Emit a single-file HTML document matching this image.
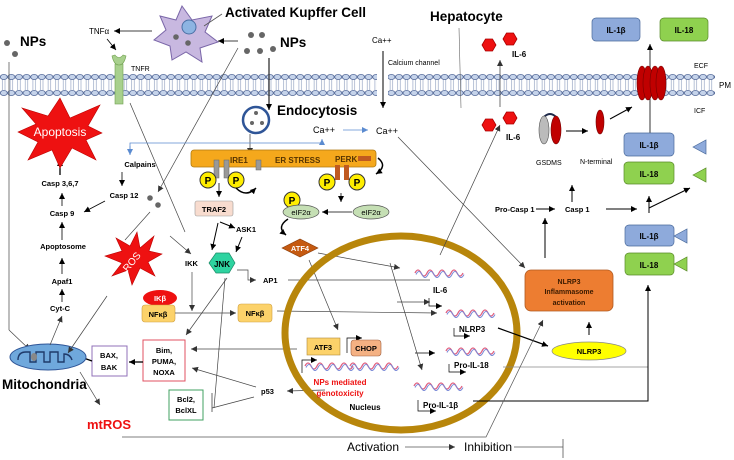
<!DOCTYPE html>
<html><head><meta charset="utf-8"><style>
html,body{margin:0;padding:0;background:#fff;width:734px;height:460px;overflow:hidden}
svg{display:block;font-family:"Liberation Sans",sans-serif}
.b{font-weight:bold}
</style></head><body>
<svg width="734" height="460" viewBox="0 0 734 460" xmlns="http://www.w3.org/2000/svg">
<defs>
<marker id="a" markerWidth="8" markerHeight="8" refX="6" refY="3" orient="auto" markerUnits="userSpaceOnUse"><path d="M0,0 L6,3 L0,6z" fill="#000"/></marker>
<marker id="ag" markerWidth="8" markerHeight="8" refX="6" refY="3" orient="auto" markerUnits="userSpaceOnUse"><path d="M0,0 L6,3 L0,6z" fill="#333"/></marker>
<marker id="ab" markerWidth="8" markerHeight="8" refX="6" refY="3" orient="auto" markerUnits="userSpaceOnUse"><path d="M0,0 L6,3 L0,6z" fill="#5b8bd0"/></marker>
<pattern id="mem" x="0" y="0" width="7.6" height="24" patternUnits="userSpaceOnUse">
<line x1="2.5" y1="79" x2="2.5" y2="90" stroke="#8899bb" stroke-width="0.6" transform="translate(0,-72)"/>
<line x1="5" y1="79" x2="5" y2="90" stroke="#8899bb" stroke-width="0.6" transform="translate(0,-72)"/>
<ellipse cx="3.8" cy="5" rx="3.5" ry="2.6" fill="#c5d3ea" stroke="#556a99" stroke-width="0.8"/>
<ellipse cx="3.8" cy="21" rx="3.5" ry="2.6" fill="#c5d3ea" stroke="#556a99" stroke-width="0.8"/>
</pattern>
<g id="wave"><path d="M0,0 q3,-6 6,0 t6,0 t6,0 t6,0 t6,0 t6,0 t6,0 t6,0" fill="none" stroke="#e06080" stroke-width="1.3"/><path d="M1,1.5 q3,-6 6,0 t6,0 t6,0 t6,0 t6,0 t6,0 t6,0 t6,0" fill="none" stroke="#7a8ad8" stroke-width="1"/></g>
<g id="P"><circle r="8" fill="#ffee00" stroke="#333" stroke-width="1"/><text y="4" text-anchor="middle" font-size="10" class="b">P</text></g>
<polygon id="hex" points="-7,0 -3.5,-6 3.5,-6 7,0 3.5,6 -3.5,6" fill="#ee1111" stroke="#aa0000" stroke-width="0.8"/>
</defs>

<!-- membrane -->
<rect x="0" y="72" width="377" height="24" fill="url(#mem)"/>
<rect x="388" y="72" width="327" height="24" fill="url(#mem)"/>
<text x="694" y="68" font-size="7">ECF</text>
<text x="719" y="88" font-size="8">PM</text>
<text x="694" y="113" font-size="7">ICF</text>

<!-- Kupffer cell -->
<polygon points="182,6 192,20 212,16 205,32 218,42 200,48 202,62 186,52 172,60 170,46 154,40 166,30 160,16 176,20" fill="#c8b8e0" stroke="#7a66a8" stroke-width="1"/>
<circle cx="189" cy="27" r="7" fill="#8db4e2" stroke="#4a6fa5"/>
<circle cx="176" cy="37" r="2.8" fill="#666"/><circle cx="188" cy="43" r="2.8" fill="#666"/>
<line x1="204" y1="26" x2="222" y2="14" stroke="#555" stroke-width="0.8"/>
<text x="225" y="17" font-size="13.5" class="b">Activated Kupffer Cell</text>
<line x1="152" y1="31" x2="114" y2="31" stroke="#000" stroke-width="0.8" marker-end="url(#a)"/>
<text x="89" y="34" font-size="8">TNFα</text>
<line x1="238" y1="41" x2="218" y2="41" stroke="#000" stroke-width="0.8" marker-end="url(#a)"/>
<line x1="107" y1="39" x2="116" y2="50" stroke="#000" stroke-width="0.8" marker-end="url(#a)"/>
<!-- TNFR -->
<rect x="115" y="64" width="8" height="40" fill="#a8d08d" stroke="#70a050" stroke-width="0.6"/>
<path d="M112,56 q2,9 7,9 q5,0 7,-9 l-3,-1 q-4,5 -8,0z" fill="#a8d08d" stroke="#70a050" stroke-width="0.6"/>
<text x="131" y="71" font-size="7">TNFR</text>

<!-- NPs -->
<circle cx="7" cy="43" r="3" fill="#666"/><circle cx="15" cy="54" r="3" fill="#666"/>
<text x="20" y="46" font-size="13.5" class="b">NPs</text>
<circle cx="251" cy="35" r="3" fill="#666"/><circle cx="262" cy="35" r="3" fill="#666"/>
<circle cx="247" cy="51" r="3" fill="#666"/><circle cx="260" cy="51" r="3" fill="#666"/><circle cx="273" cy="49" r="3" fill="#666"/>
<text x="280" y="47" font-size="13.5" class="b">NPs</text>
<line x1="9" y1="62" x2="9" y2="330" stroke="#444" stroke-width="0.7"/>
<line x1="9" y1="330" x2="30" y2="350" stroke="#444" stroke-width="0.7" marker-end="url(#ag)"/>
<line x1="269" y1="58" x2="269" y2="110" stroke="#333" stroke-width="1.3" marker-end="url(#a)"/>
<line x1="238" y1="48" x2="158" y2="192" stroke="#444" stroke-width="0.7" marker-end="url(#ag)"/>
<line x1="130" y1="103" x2="185" y2="232" stroke="#444" stroke-width="0.7"/>

<!-- Endocytosis -->
<circle cx="256" cy="120" r="13" fill="#fff" stroke="#2f5597" stroke-width="2.5"/>
<circle cx="256" cy="113" r="2" fill="#666"/><circle cx="252" cy="123" r="2" fill="#666"/><circle cx="262" cy="123" r="2" fill="#666"/>
<text x="277" y="115" font-size="13.5" class="b">Endocytosis</text>
<line x1="250" y1="134" x2="250" y2="154" stroke="#333" stroke-width="0.7" marker-end="url(#ag)"/>

<!-- Ca -->
<text x="313" y="133" font-size="9">Ca++</text>
<line x1="343" y1="130" x2="368" y2="130" stroke="#5b8bd0" stroke-width="0.8" marker-end="url(#ab)"/>
<text x="376" y="134" font-size="9">Ca++</text>
<text x="372" y="43" font-size="8">Ca++</text>
<line x1="383" y1="51" x2="383" y2="108" stroke="#000" stroke-width="1" marker-end="url(#a)"/>
<text x="388" y="65" font-size="7">Calcium channel</text>
<path d="M130,155 L130,143 L322,143 L322,139" fill="none" stroke="#5b8bd0" stroke-width="0.8" marker-end="url(#ab)"/>
<line x1="130" y1="146" x2="130" y2="155" stroke="#5b8bd0" stroke-width="0.8" marker-end="url(#ab)"/>
<line x1="398" y1="137" x2="525" y2="268" stroke="#444" stroke-width="0.7" marker-end="url(#ag)"/>

<!-- ER -->
<rect x="191" y="150" width="185" height="17" rx="3" fill="#f5a81c" stroke="#b07a10" stroke-width="0.8"/>
<text x="230" y="163" font-size="8" class="b" fill="#553300">IRE1</text>
<text x="275" y="163" font-size="8" class="b" fill="#553300">ER STRESS</text>
<text x="335" y="162" font-size="8" class="b" fill="#553300">PERK</text>
<rect x="358" y="156" width="13" height="5" fill="#c05a20"/>
<rect x="214" y="160" width="5" height="18" fill="#999" stroke="#666" stroke-width="0.5"/>
<rect x="224" y="160" width="5" height="18" fill="#999" stroke="#666" stroke-width="0.5"/>
<rect x="256" y="160" width="5" height="10" fill="#999" stroke="#666" stroke-width="0.5"/>
<rect x="335" y="165" width="5" height="15" fill="#c05a20"/>
<rect x="344" y="165" width="5" height="15" fill="#c05a20"/>
<use href="#P" x="208" y="180"/><use href="#P" x="236" y="180"/>
<use href="#P" x="327" y="182"/><use href="#P" x="357" y="182"/>
<path d="M236,188 q10,10 20,0" fill="none" stroke="#000" stroke-width="1.5" marker-end="url(#a)"/>
<path d="M378,158 q10,8 -2,16" fill="none" stroke="#000" stroke-width="1.5" marker-end="url(#a)"/>
<line x1="219" y1="183" x2="219" y2="197" stroke="#000" stroke-width="0.8" marker-end="url(#a)"/>
<line x1="341" y1="193" x2="341" y2="202" stroke="#000" stroke-width="0.8" marker-end="url(#a)"/>
<rect x="195" y="201" width="38" height="15" rx="2" fill="#f8dccf" stroke="#999" stroke-width="0.6"/>
<text x="214" y="212" font-size="7.5" class="b" text-anchor="middle">TRAF2</text>
<use href="#P" x="292" y="200"/>
<ellipse cx="301" cy="212" rx="18" ry="7" fill="#c5dfb4" stroke="#555" stroke-width="0.7"/>
<text x="301" y="215" font-size="7.5" text-anchor="middle">eIF2α</text>
<ellipse cx="371" cy="212" rx="18" ry="7" fill="#c5dfb4" stroke="#555" stroke-width="0.7"/>
<text x="371" y="215" font-size="7.5" text-anchor="middle">eIF2α</text>
<line x1="352" y1="212" x2="322" y2="212" stroke="#000" stroke-width="0.8" marker-end="url(#a)"/>
<path d="M288,219 q-12,8 -2,16" fill="none" stroke="#000" stroke-width="1.5" marker-end="url(#a)"/>
<polygon points="282,248 300,239 318,248 300,257" fill="#c55a11" stroke="#8a3d0a" stroke-width="0.6"/>
<text x="300" y="251" font-size="7.5" class="b" fill="#fff" text-anchor="middle">ATF4</text>
<line x1="218" y1="223" x2="212" y2="250" stroke="#000" stroke-width="1" marker-end="url(#a)"/>
<line x1="220" y1="222" x2="235" y2="228" stroke="#000" stroke-width="1" marker-end="url(#a)"/>
<text x="236" y="232" font-size="7.5" class="b">ASK1</text>
<line x1="242" y1="237" x2="236" y2="252" stroke="#000" stroke-width="1" marker-end="url(#a)"/>
<text x="185" y="266" font-size="7.5" class="b">IKK</text>
<line x1="170" y1="236" x2="191" y2="254" stroke="#444" stroke-width="0.7" marker-end="url(#ag)"/>
<polygon points="215,266 222,256 235,256 241,266 235,276 222,276" transform="translate(-6,-3)" fill="#2ed3a0" stroke="#1a8a66" stroke-width="0.7"/>
<text x="222" y="267" font-size="8" class="b" text-anchor="middle">JNK</text>
<path d="M237,270 L248,270 L248,280 L256,280" fill="none" stroke="#444" stroke-width="0.7" marker-end="url(#ag)"/>
<text x="263" y="283" font-size="7.5" class="b">AP1</text>
<line x1="288" y1="280" x2="430" y2="280" stroke="#444" stroke-width="0.7"/>
<line x1="318" y1="253" x2="400" y2="268" stroke="#444" stroke-width="0.7" marker-end="url(#ag)"/>
<line x1="309" y1="260" x2="338" y2="330" stroke="#444" stroke-width="0.7" marker-end="url(#ag)"/>
<line x1="192" y1="272" x2="192" y2="311" stroke="#444" stroke-width="0.7" marker-end="url(#ag)"/>

<!-- NFkB -->
<ellipse cx="160" cy="298" rx="17" ry="8" fill="#ee1111"/>
<text x="160" y="301" font-size="7.5" class="b" fill="#fff" text-anchor="middle">IKβ</text>
<rect x="142" y="305" width="33" height="17" rx="3" fill="#fcd26a" stroke="#d0a040" stroke-width="0.6"/>
<text x="158" y="317" font-size="7.5" class="b" text-anchor="middle">NFκβ</text>
<line x1="175" y1="313" x2="236" y2="313" stroke="#444" stroke-width="0.7" marker-end="url(#ag)"/>
<rect x="238" y="304" width="34" height="18" rx="3" fill="#fcd26a" stroke="#d0a040" stroke-width="0.6"/>
<text x="255" y="316" font-size="7.5" class="b" text-anchor="middle">NFκβ</text>
<line x1="277" y1="311" x2="437" y2="313" stroke="#444" stroke-width="0.7" marker-end="url(#ag)"/>
<line x1="227" y1="278" x2="186" y2="335" stroke="#444" stroke-width="0.7" marker-end="url(#ag)"/>
<line x1="225" y1="278" x2="214" y2="408" stroke="#444" stroke-width="0.7"/>
<line x1="212" y1="408" x2="254" y2="397" stroke="#444" stroke-width="0.7"/>
<line x1="212" y1="393" x2="212" y2="412" stroke="#444" stroke-width="0.8"/>

<!-- Bim etc -->
<rect x="143" y="340" width="42" height="41" fill="#fff" stroke="#e05060" stroke-width="1"/>
<text x="164" y="353" font-size="7.5" class="b" text-anchor="middle">Bim,</text>
<text x="164" y="364" font-size="7.5" class="b" text-anchor="middle">PUMA,</text>
<text x="164" y="375" font-size="7.5" class="b" text-anchor="middle">NOXA</text>
<line x1="297" y1="349" x2="191" y2="349" stroke="#444" stroke-width="0.7" marker-end="url(#ag)"/>
<line x1="143" y1="362" x2="129" y2="362" stroke="#000" stroke-width="1.3" marker-end="url(#a)"/>
<rect x="92" y="346" width="35" height="30" fill="#fff" stroke="#9070b8" stroke-width="1"/>
<text x="109" y="358" font-size="7.5" class="b" text-anchor="middle">BAX,</text>
<text x="109" y="370" font-size="7.5" class="b" text-anchor="middle">BAK</text>
<line x1="92" y1="361" x2="78" y2="356" stroke="#000" stroke-width="1.3" marker-end="url(#a)"/>
<rect x="169" y="390" width="34" height="30" fill="#fff" stroke="#40a060" stroke-width="1"/>
<text x="186" y="402" font-size="7.5" class="b" text-anchor="middle">Bcl2,</text>
<text x="186" y="413" font-size="7.5" class="b" text-anchor="middle">BclXL</text>
<text x="261" y="394" font-size="7.5" class="b">p53</text>
<line x1="325" y1="390" x2="287" y2="391" stroke="#444" stroke-width="0.7" marker-end="url(#ag)"/>
<line x1="256" y1="387" x2="192" y2="368" stroke="#444" stroke-width="0.7" marker-end="url(#ag)"/>

<!-- Mitochondria -->
<ellipse cx="48" cy="357" rx="38" ry="13" fill="#6fa8dc" stroke="#2f5597" stroke-width="1"/>
<path d="M18,360 q0,-8 8,-8 l4,0 0,10 6,0 0,-10 8,0 0,10 6,0 0,-10 8,0 0,10 6,0 0,-8 q6,0 8,6" fill="none" stroke="#1f3a6a" stroke-width="1.4"/>
<ellipse cx="34" cy="357" rx="3" ry="4" fill="#888"/>
<text x="2" y="389" font-size="13.5" class="b">Mitochondria</text>
<line x1="80" y1="372" x2="100" y2="405" stroke="#444" stroke-width="0.7" marker-end="url(#ag)"/>
<text x="87" y="429" font-size="13" class="b" fill="#ee1111">mtROS</text>
<line x1="50" y1="345" x2="62" y2="316" stroke="#444" stroke-width="0.7" marker-end="url(#ag)"/>
<line x1="107" y1="296" x2="68" y2="353" stroke="#444" stroke-width="0.7" marker-end="url(#ag)"/>

<!-- left chain -->
<text x="60" y="311" font-size="7.5" class="b" text-anchor="middle">Cyt-C</text>
<line x1="62" y1="302" x2="62" y2="289" stroke="#000" stroke-width="0.8" marker-end="url(#a)"/>
<text x="62" y="284" font-size="7.5" class="b" text-anchor="middle">Apaf1</text>
<line x1="62" y1="274" x2="62" y2="258" stroke="#000" stroke-width="0.8" marker-end="url(#a)"/>
<text x="63" y="249" font-size="7.5" class="b" text-anchor="middle">Apoptosome</text>
<line x1="62" y1="240" x2="62" y2="222" stroke="#000" stroke-width="0.8" marker-end="url(#a)"/>
<text x="62" y="216" font-size="7.5" class="b" text-anchor="middle">Casp 9</text>
<line x1="62" y1="206" x2="62" y2="193" stroke="#000" stroke-width="0.8" marker-end="url(#a)"/>
<text x="60" y="186" font-size="7.5" class="b" text-anchor="middle">Casp 3,6,7</text>
<line x1="60" y1="175" x2="60" y2="160" stroke="#000" stroke-width="1.3" marker-end="url(#a)"/>
<polygon points="60,98 70,118 100,105 88,126 102,133 86,140 96,160 72,148 60,168 52,150 28,160 38,142 18,132 36,124 22,108 48,116" fill="#ee1111" stroke="#b00" stroke-width="0.6"/>
<text x="60" y="136" font-size="12" fill="#fff" text-anchor="middle">Apoptosis</text>
<text x="140" y="167" font-size="7.5" class="b" text-anchor="middle">Calpains</text>
<line x1="122" y1="172" x2="122" y2="186" stroke="#000" stroke-width="0.8" marker-end="url(#a)"/>
<text x="124" y="198" font-size="7.5" class="b" text-anchor="middle">Casp 12</text>
<line x1="105" y1="201" x2="84" y2="212" stroke="#000" stroke-width="0.8" marker-end="url(#a)"/>
<circle cx="150" cy="198" r="2.8" fill="#666"/><circle cx="158" cy="205" r="2.8" fill="#666"/>
<line x1="150" y1="212" x2="125" y2="240" stroke="#444" stroke-width="0.7"/>
<polygon points="137,232 140,248 154,236 149,251 162,254 148,262 155,276 140,268 132,285 128,270 112,276 122,263 105,256 122,251 116,238 130,246" fill="#ee1111" stroke="#b00" stroke-width="0.6"/>
<text x="132" y="265" font-size="10" fill="#fff" text-anchor="middle" transform="rotate(-50 132 262)">ROS</text>

<!-- Nucleus -->
<ellipse cx="401" cy="333" rx="116" ry="97" fill="none" stroke="#b8860b" stroke-width="7"/>
<path d="M302,373 L302,360 L317,360" fill="none" stroke="#000" stroke-width="0.7" marker-end="url(#a)"/>
<rect x="307" y="338" width="33" height="17" fill="#fcd26a" stroke="#b0893a" stroke-width="0.6"/>
<text x="323" y="350" font-size="7.5" class="b" text-anchor="middle">ATF3</text>
<path d="M347,353 L347,338 L362,338" fill="none" stroke="#000" stroke-width="0.7" marker-end="url(#a)"/>
<rect x="351" y="340" width="30" height="16" rx="3" fill="#f4b183" stroke="#a06040" stroke-width="0.6"/>
<text x="366" y="351" font-size="7.5" class="b" text-anchor="middle">CHOP</text>
<use href="#wave" x="305" y="366"/><use href="#wave" x="350" y="366"/>
<text x="340" y="385" font-size="8" class="b" fill="#ee1111" text-anchor="middle">NPs mediated</text>
<text x="340" y="396" font-size="8" class="b" fill="#ee1111" text-anchor="middle">genotoxicity</text>
<text x="365" y="410" font-size="8" class="b" text-anchor="middle">Nucleus</text>

<use href="#wave" x="415" y="273"/>
<path d="M429,298 L429,298 L429,306 L442,306" fill="none" stroke="#000" stroke-width="0.7" marker-end="url(#a)"/>
<text x="433" y="293" font-size="8" class="b">IL-6</text>
<use href="#wave" x="446" y="313"/>
<path d="M454,328 L454,336 L470,336" fill="none" stroke="#000" stroke-width="0.7" marker-end="url(#a)"/>
<text x="459" y="332" font-size="8" class="b">NLRP3</text>
<line x1="415" y1="353" x2="435" y2="353" stroke="#000" stroke-width="0.7" marker-end="url(#a)"/>
<use href="#wave" x="446" y="351"/>
<path d="M449,364 L449,372 L466,372" fill="none" stroke="#000" stroke-width="0.7" marker-end="url(#a)"/>
<text x="454" y="368" font-size="8" class="b">Pro-IL-18</text>
<use href="#wave" x="414" y="386"/>
<path d="M418,400 L418,411 L436,411" fill="none" stroke="#000" stroke-width="0.7" marker-end="url(#a)"/>
<text x="423" y="408" font-size="8" class="b">Pro-IL-1β</text>
<line x1="390" y1="263" x2="422" y2="370" stroke="#444" stroke-width="0.7" marker-end="url(#ag)"/>
<line x1="440" y1="255" x2="500" y2="125" stroke="#444" stroke-width="0.7" marker-end="url(#ag)"/>
<line x1="397" y1="302" x2="430" y2="302" stroke="#444" stroke-width="0.7" marker-end="url(#ag)"/>
<line x1="498" y1="328" x2="548" y2="346" stroke="#000" stroke-width="1.2" marker-end="url(#a)"/>
<line x1="503" y1="367" x2="648" y2="367" stroke="#888" stroke-width="0.8"/>
<path d="M473,401 L648,401 L648,285" fill="none" stroke="#000" stroke-width="1" marker-end="url(#a)"/>
<path d="M122,437 L486,437 L543,320" fill="none" stroke="#555" stroke-width="0.7" marker-end="url(#ag)"/>

<!-- Inflammasome -->
<rect x="525" y="270" width="88" height="41" rx="6" fill="#ed7d31" stroke="#b05a20" stroke-width="0.8"/>
<text x="569" y="284" font-size="7" class="b" text-anchor="middle" fill="#3a1a00">NLRP3</text>
<text x="569" y="294" font-size="7" class="b" text-anchor="middle" fill="#3a1a00">Inflammasome</text>
<text x="569" y="305" font-size="7" class="b" text-anchor="middle" fill="#3a1a00">activation</text>
<ellipse cx="589" cy="351" rx="37" ry="9" fill="#ffff00" stroke="#888" stroke-width="0.7"/>
<text x="589" y="354" font-size="7.5" class="b" text-anchor="middle">NLRP3</text>
<line x1="589" y1="335" x2="589" y2="322" stroke="#000" stroke-width="1" marker-end="url(#a)"/>
<line x1="545" y1="258" x2="545" y2="229" stroke="#000" stroke-width="1"/>

<!-- Casp -->
<text x="495" y="212" font-size="7.5" class="b">Pro-Casp 1</text>
<line x1="536" y1="209" x2="555" y2="209" stroke="#000" stroke-width="1" marker-end="url(#a)"/>
<line x1="545" y1="229" x2="545" y2="218" stroke="#000" stroke-width="1" marker-end="url(#a)"/>
<text x="565" y="212" font-size="7.5" class="b">Casp 1</text>
<line x1="572" y1="202" x2="572" y2="185" stroke="#000" stroke-width="1" marker-end="url(#a)"/>
<line x1="606" y1="209" x2="637" y2="209" stroke="#000" stroke-width="1" marker-end="url(#a)"/>
<line x1="649" y1="213" x2="649" y2="196" stroke="#000" stroke-width="1" marker-end="url(#a)"/>
<line x1="649" y1="208" x2="690" y2="188" stroke="#000" stroke-width="1" marker-end="url(#a)"/>

<!-- IL-6 hexes -->
<use href="#hex" x="489" y="45"/><use href="#hex" x="510" y="39"/>
<text x="512" y="57" font-size="8" class="b">IL-6</text>
<line x1="500" y1="107" x2="500" y2="60" stroke="#333" stroke-width="0.7" marker-end="url(#ag)"/>
<use href="#hex" x="489" y="125"/><use href="#hex" x="510" y="118"/>
<text x="506" y="140" font-size="8" class="b">IL-6</text>
<line x1="459" y1="28" x2="461" y2="108" stroke="#666" stroke-width="0.6"/>
<text x="430" y="21" font-size="13.5" class="b">Hepatocyte</text>

<!-- GSDMS -->
<path d="M543,118 q7,-8 14,0" fill="none" stroke="#1f2a4a" stroke-width="2"/>
<ellipse cx="544" cy="130" rx="5" ry="14" fill="#bbb" stroke="#555" stroke-width="0.6"/>
<ellipse cx="556" cy="130" rx="5" ry="14" fill="#c00000" stroke="#700" stroke-width="0.6"/>
<text x="536" y="165" font-size="7">GSDMS</text>
<line x1="566" y1="131" x2="588" y2="131" stroke="#000" stroke-width="1" marker-end="url(#a)"/>
<ellipse cx="600" cy="122" rx="4" ry="12" fill="#c00000" stroke="#700" stroke-width="0.6"/>
<text x="580" y="164" font-size="7">N-terminal</text>
<line x1="610" y1="119" x2="632" y2="107" stroke="#000" stroke-width="1" marker-end="url(#a)"/>
<!-- pore -->
<line x1="650" y1="133" x2="650" y2="44" stroke="#333" stroke-width="1" marker-end="url(#a)"/>
<ellipse cx="642" cy="83" rx="5" ry="17" fill="#c00000" stroke="#700" stroke-width="0.6"/>
<ellipse cx="648" cy="83" rx="5" ry="17" fill="#c00000" stroke="#700" stroke-width="0.6"/>
<ellipse cx="655" cy="83" rx="5" ry="17" fill="#c00000" stroke="#700" stroke-width="0.6"/>
<ellipse cx="661" cy="83" rx="5" ry="17" fill="#c00000" stroke="#700" stroke-width="0.6"/>

<!-- cytokine boxes -->
<rect x="592" y="18" width="48" height="23" rx="4" fill="#8eaadb" stroke="#4a6a9b" stroke-width="0.7"/>
<text x="616" y="33" font-size="8" class="b" text-anchor="middle">IL-1β</text>
<rect x="660" y="18" width="48" height="23" rx="4" fill="#8fd14f" stroke="#5a8a2a" stroke-width="0.7"/>
<text x="684" y="33" font-size="8" class="b" text-anchor="middle">IL-18</text>
<rect x="624" y="133" width="50" height="23" rx="4" fill="#8eaadb" stroke="#4a6a9b" stroke-width="0.7"/>
<text x="649" y="148" font-size="8" class="b" text-anchor="middle">IL-1β</text>
<rect x="624" y="162" width="50" height="22" rx="4" fill="#8fd14f" stroke="#5a8a2a" stroke-width="0.7"/>
<text x="649" y="177" font-size="8" class="b" text-anchor="middle">IL-18</text>
<polygon points="693,147 706,140 706,154" fill="#8eaadb" stroke="#4a6a9b" stroke-width="0.7"/>
<polygon points="693,175 706,168 706,182" fill="#8fd14f" stroke="#5a8a2a" stroke-width="0.7"/>
<rect x="625" y="225" width="49" height="21" rx="4" fill="#8eaadb" stroke="#4a6a9b" stroke-width="0.7"/>
<text x="649" y="239" font-size="8" class="b" text-anchor="middle">IL-1β</text>
<rect x="625" y="253" width="49" height="22" rx="4" fill="#8fd14f" stroke="#5a8a2a" stroke-width="0.7"/>
<text x="649" y="268" font-size="8" class="b" text-anchor="middle">IL-18</text>
<polygon points="674,236 687,229 687,243" fill="#8eaadb" stroke="#4a6a9b" stroke-width="0.7"/>
<polygon points="674,264 687,257 687,271" fill="#8fd14f" stroke="#5a8a2a" stroke-width="0.7"/>

<!-- legend -->
<text x="347" y="451" font-size="12">Activation</text>
<line x1="405" y1="447" x2="455" y2="447" stroke="#555" stroke-width="0.7" marker-end="url(#ag)"/>
<text x="464" y="451" font-size="12">Inhibition</text>
<line x1="514" y1="447" x2="563" y2="447" stroke="#555" stroke-width="0.7"/>
<line x1="563" y1="439" x2="563" y2="458" stroke="#555" stroke-width="0.8"/>
</svg>
</body></html>
